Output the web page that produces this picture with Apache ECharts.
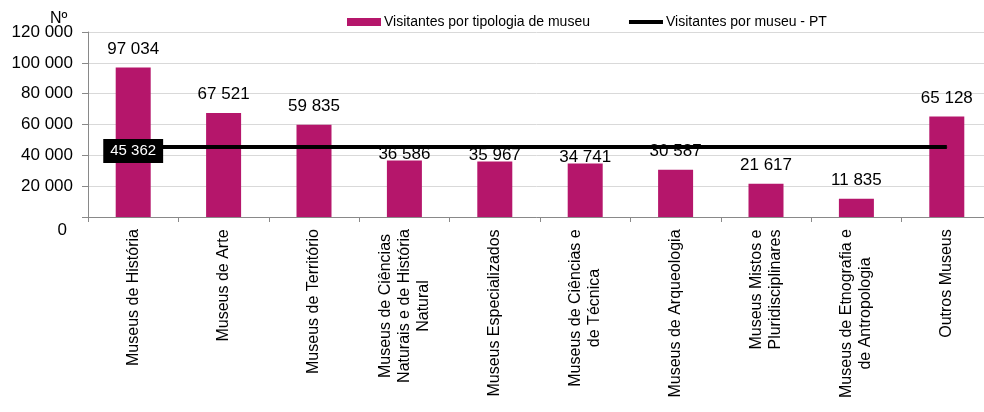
<!DOCTYPE html>
<html>
<head>
<meta charset="utf-8">
<script src="https://cdn.jsdelivr.net/npm/echarts@6/dist/echarts.min.js"></script>
<style>
  html, body { margin: 0; padding: 0; background: #fff; }
  #chart { width: 984px; height: 412px; }
</style>
</head>
<body>
<div id="chart"></div>
<script>
// categorias (as quebras de linha seguem o original)
var categorias = [
  'Museus de História',
  'Museus de Arte',
  'Museus de Território',
  'Museus de Ciências\nNaturais e de História\nNatural',
  'Museus Especializados',
  'Museus de Ciências e\nde Técnica',
  'Museus de Arqueologia',
  'Museus Mistos e\nPluridisciplinares',
  'Museus de Etnografia e\nde Antropologia',
  'Outros Museus'
];
var visitantesTipologia = [97034, 67521, 59835, 36586, 35967, 34741, 30587, 21617, 11835, 65128];
var visitantesPT = [45362, 45362, 45362, 45362, 45362, 45362, 45362, 45362, 45362, 45362];
var yTicks = [0, 20000, 40000, 60000, 80000, 100000, 120000];

var nomeBarra = 'Visitantes por tipologia de museu';
var nomeLinha = 'Visitantes por museu - PT';
var FONTE = 'Arial';

function fmt(n) {
  return String(n).replace(/\B(?=(\d{3})+(?!\d))/g, ' ');
}

// largura de cada etiqueta (linha mais longa) para centrar as linhas
var ctx = document.createElement('canvas').getContext('2d');
ctx.font = '16px ' + FONTE;
var rich = {};
categorias.forEach(function (c, i) {
  var w = 0;
  c.split('\n').forEach(function (l) {
    w = Math.max(w, ctx.measureText(l).width);
  });
  rich['c' + i] = {
    width: Math.ceil(w) + 2,
    align: 'center',
    fontSize: 16,
    lineHeight: 19,
    color: '#000',
    fontFamily: FONTE
  };
});

// etiquetas das barras 4-6 estão encostadas à barra no original
var etiquetaJunta = [3, 4, 5];
var dadosBarra = visitantesTipologia.map(function (v, i) {
  if (etiquetaJunta.indexOf(i) >= 0) {
    return { value: v, label: { distance: -2 } };
  }
  return v;
});
var dadosLinha = visitantesPT.map(function (v, i) {
  if (i === 0) return { value: v, label: { show: true } };
  return v;
});

var chart = echarts.init(document.getElementById('chart'));
var option = {
  animation: false,
  textStyle: { fontFamily: FONTE },
  title: {
    text: 'Nº',
    left: 45,
    top: 6,
    textStyle: { fontSize: 16, fontWeight: 'normal', color: '#000', fontFamily: FONTE }
  },
  legend: {
    left: 342,
    top: 10,
    itemGap: 39,
    itemWidth: 34,
    itemHeight: 8,
    textStyle: { fontSize: 14, color: '#000', fontFamily: FONTE, padding: [0, 0, 0, -2] },
    data: [
      { name: nomeBarra, icon: 'rect' },
      { name: nomeLinha, icon: 'path://M0,0H36V4H0Z', itemStyle: { color: '#000' } }
    ]
  },
  grid: {
    left: 88,
    top: 32,
    width: 904,
    height: 185,
    outerBoundsMode: 'none',
    containLabel: false
  },
  xAxis: {
    type: 'category',
    data: categorias,
    axisLine: { lineStyle: { color: '#898989', width: 1 } },
    axisTick: { show: true, length: 5, lineStyle: { color: '#898989' } },
    axisLabel: {
      rotate: 90,
      margin: 11,
      interval: 0,
      formatter: function (value, index) {
        return value.split('\n').map(function (l) {
          return '{c' + index + '|' + l + '}';
        }).join('\n');
      },
      rich: rich
    }
  },
  yAxis: {
    type: 'value',
    min: yTicks[0],
    max: yTicks[yTicks.length - 1],
    interval: yTicks[1] - yTicks[0],
    axisLine: { show: true, lineStyle: { color: '#898989' } },
    axisTick: { show: true, length: 6, lineStyle: { color: '#898989' } },
    splitLine: { lineStyle: { color: '#d9d9d9', width: 1 } },
    axisLabel: {
      margin: 15,
      color: '#000',
      fontSize: 17,
      fontFamily: FONTE,
      formatter: function (v) {
        if (v === 0) return '{z|0}';
        return fmt(v);
      },
      rich: {
        z: { fontSize: 17, color: '#000', fontFamily: FONTE, padding: [26, 6, 0, 0] }
      }
    }
  },
  series: [
    {
      name: nomeBarra,
      type: 'bar',
      data: dadosBarra,
      barWidth: 35,
      itemStyle: { color: '#B5166B' },
      label: {
        show: true,
        position: 'top',
        distance: 10,
        fontSize: 17,
        color: '#000',
        fontFamily: FONTE,
        formatter: function (p) { return fmt(p.value); }
      },
      z: 2
    },
    {
      name: nomeLinha,
      type: 'line',
      data: dadosLinha,
      symbol: 'circle',
      symbolSize: 1,
      showSymbol: true,
      itemStyle: { color: '#000' },
      lineStyle: { color: '#000', width: 4 },
      label: {
        show: false,
        position: 'inside',
        offset: [0, 4],
        backgroundColor: '#000',
        color: '#fff',
        fontSize: 15,
        fontFamily: FONTE,
        padding: [5, 7, 4, 7],
        formatter: function (p) { return fmt(p.value); }
      },
      z: 3
    }
  ]
};
chart.setOption(option);
</script>
</body>
</html>
